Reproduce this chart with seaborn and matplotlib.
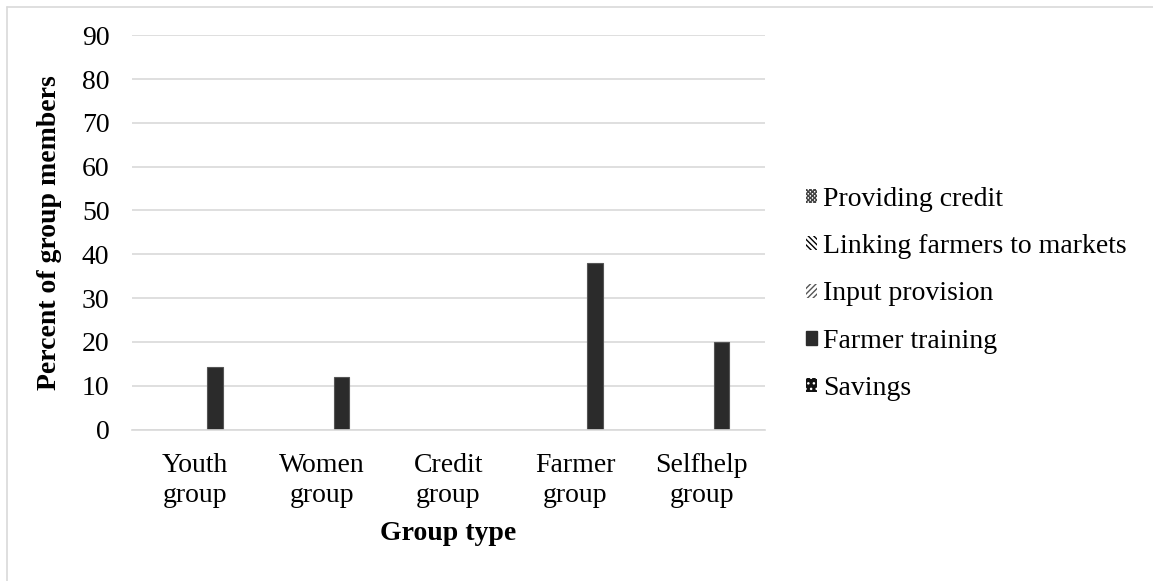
import matplotlib
matplotlib.use("Agg")
import matplotlib.pyplot as plt
from matplotlib.patches import Patch
from matplotlib.lines import Line2D
import numpy as np
import pandas as pd
import seaborn as sns

# Data
groups = ["Youth\ngroup", "Women\ngroup", "Credit\ngroup", "Farmer\ngroup", "Selfhelp\ngroup"]
activities = ["Providing credit", "Linking farmers to markets", "Input provision",
              "Farmer training", "Savings"]
providing_credit = [0, 0, 0, 0, 0]
linking_markets = [0, 0, 0, 0, 0]
input_provision = [0, 0, 0, 0, 0]
farmer_training = [14.3, 12, 0, 38, 20]
savings = [0, 0, 0, 0, 0]

series = [providing_credit, linking_markets, input_provision, farmer_training, savings]
df = pd.DataFrame({
    "group": np.repeat([groups], len(activities), axis=0).ravel(),
    "activity": np.repeat(activities, len(groups)),
    "value": np.concatenate(series),
})

sns.set_theme(style="white")
plt.rcParams["font.family"] = ["Liberation Serif", "DejaVu Serif"]
plt.rcParams["text.color"] = "black"
plt.rcParams["axes.labelcolor"] = "black"

W, H, DPI = 1153, 581, 100
fig = plt.figure(figsize=(W / DPI, H / DPI), dpi=DPI)
ax = fig.add_axes([131.7 / W, 1 - 429.5 / H, (765 - 131.7) / W, (429.5 - 35.3) / H])

bar_color = "#2b2b2b"
sns.barplot(data=df, x="group", y="value", hue="activity", hue_order=activities,
            order=groups, palette=[bar_color] * 5, width=0.79, gap=0.23,
            legend=False, ax=ax, edgecolor="#555555", linewidth=0.8)

# zero-height bars should not leave a line on the axis
for p in ax.patches:
    if p.get_height() == 0:
        p.set_visible(False)

ax.set_ylim(0, 90)
ax.set_xlim(-0.5, len(groups) - 0.5)
ax.set_yticks(np.arange(0, 91, 10))
ax.yaxis.grid(True, color="#d9d9d9", linewidth=1.2)
ax.set_axisbelow(True)
for s in ["top", "right", "left"]:
    ax.spines[s].set_visible(False)
ax.spines["bottom"].set_color("#d9d9d9")
ax.spines["bottom"].set_linewidth(1.2)

fs = 20
ax.tick_params(axis="y", length=0, labelsize=fs, pad=16, labelcolor="black")
ax.tick_params(axis="x", length=0, labelsize=fs, pad=17, labelcolor="black")
# category separators below the axis
ax.set_xticks(np.arange(-0.5, len(groups), 1.0), minor=True)
ax.tick_params(axis="x", which="minor", length=6, width=1.2, color="#d9d9d9", direction="out")
for lab in ax.get_xticklabels():
    lab.set_linespacing(1.26)

ax.set_xlabel("Group type", fontsize=fs, fontweight="bold", labelpad=9)
ax.set_ylabel("Percent of group members", fontsize=fs, fontweight="bold", labelpad=14)

# Legend with patterned swatches
handles = [
    Patch(facecolor="white", edgecolor="#444444", hatch="xxxxxxxx", linewidth=0),
    Patch(facecolor="white", edgecolor="black", hatch="\\\\\\\\\\\\", linewidth=0),
    Patch(facecolor="white", edgecolor="#555555", hatch="//////", linewidth=0),
    Patch(facecolor=bar_color, edgecolor=bar_color),
    Patch(facecolor="#111111", edgecolor="white", hatch="...", linewidth=0),
]
leg = fig.legend(handles, activities, loc="center left",
                 bbox_to_anchor=(806 / W, 1 - 294 / H), frameon=False,
                 fontsize=fs, handlelength=0.4, handleheight=0.4,
                 handletextpad=0.2, labelspacing=0.8, borderaxespad=0,
                 borderpad=0, labelcolor="black")

# thin chart-area border on the top and left
fig.add_artist(Line2D([6.5 / W, 1], [1 - 6.5 / H, 1 - 6.5 / H], color="#d9d9d9", linewidth=1.2))
fig.add_artist(Line2D([6.5 / W, 6.5 / W], [0, 1 - 6.5 / H], color="#d9d9d9", linewidth=1.2))

fig.savefig("out.png", dpi=DPI)
